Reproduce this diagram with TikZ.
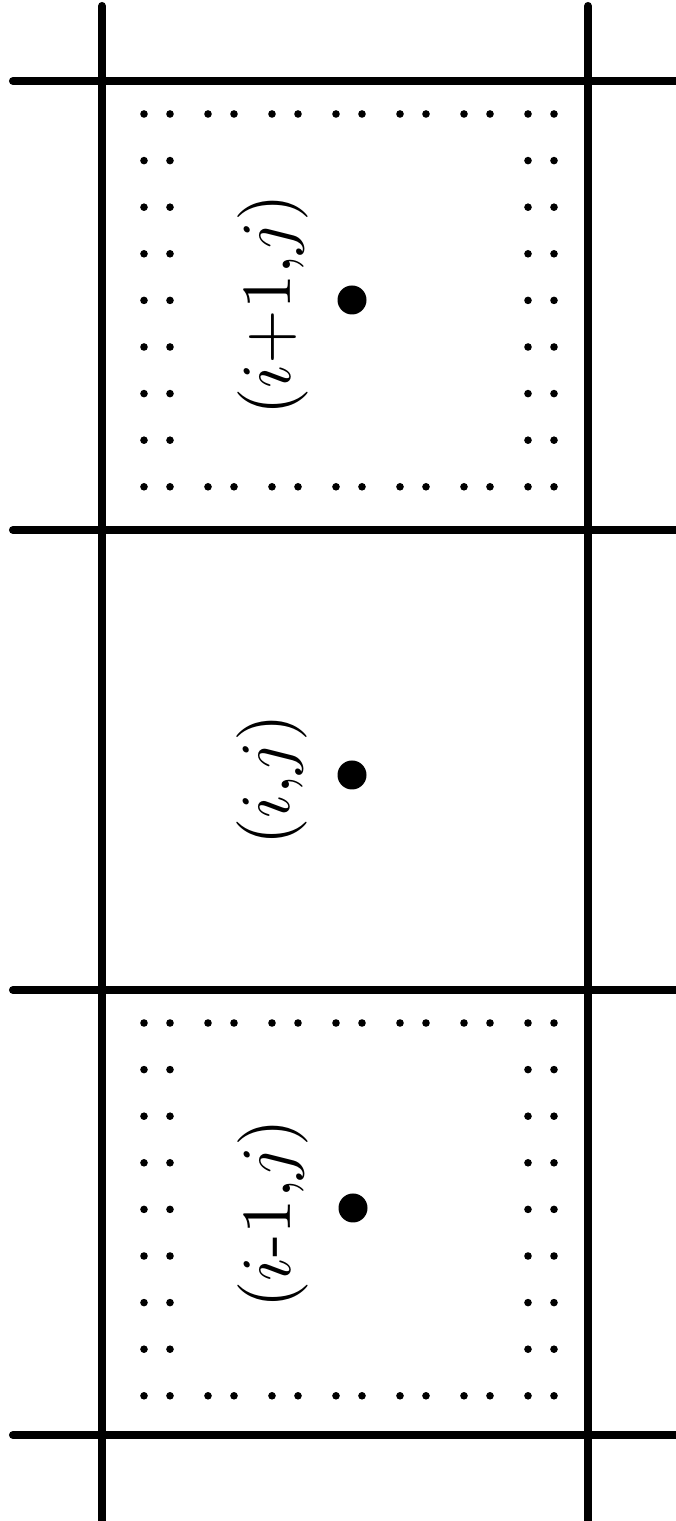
\documentclass[tikz,border=0pt]{standalone}
\usepackage{tikz}
\usetikzlibrary{positioning}
\tikzset{
    % Grid line style
    gridline/.style={
        line width=2.3pt,
        line cap=round,
        draw=black
    },
    % Cell centre point
    centerdot/.style={
        circle,
        fill=black,
        inner sep=0pt,
        minimum width=0.29cm,
        minimum height=0.27cm
    },
    % Cell label (turned on its side)
    celllabel/.style={
        rotate=90,
        inner sep=0pt,
        scale=2,
        font=\fontsize{10}{12}\selectfont
    }
}
% dotted frame inside a cell, #1 = y of its top dot row
\newcommand{\dotframe}[1]{%
    \foreach \m in {0,...,6} {
        \fill ({1.44+\m*0.64},#1) circle (0.038);
        \fill ({1.70+\m*0.64},#1) circle (0.038);
        \fill ({1.44+\m*0.64},{#1-8*0.466}) circle (0.038);
        \fill ({1.70+\m*0.64},{#1-8*0.466}) circle (0.038);
    }
    \foreach \k in {1,...,7} {
        \foreach \x in {1.44,1.70,5.28,5.54}
            \fill (\x,{#1-\k*0.466}) circle (0.038);
    }
}
\begin{document}
\begin{tikzpicture}
    \useasboundingbox (0,0) rectangle (6.75,15.21);

    % Grid
    \draw[gridline] (1.02,15.15) -- (1.02,-0.2);
    \draw[gridline] (5.88,15.15) -- (5.88,-0.2);
    \foreach \y in {14.40,9.91,5.31,0.86}
        \draw[gridline] (0.13,\y) -- (7,\y);

    % Dotted frames
    \dotframe{14.07}
    \dotframe{4.98}

    % Centre points
    \node[centerdot] (pup) at (3.52,12.21) {};
    \node[centerdot] (pmid) at (3.52,7.46) {};
    \node[centerdot] (plow) at (3.53,3.13) {};

    % Labels
    \node[celllabel] (lup) at (2.73,12.16) {$(i{+}1,\!j)$};
    \node[celllabel] (lmid) at (2.72,7.41) {$(i,\!j)$};
    \node[celllabel] (llow) at (2.73,3.07) {$(i\mbox{-}1,\!j)$};
\end{tikzpicture}
\end{document}
